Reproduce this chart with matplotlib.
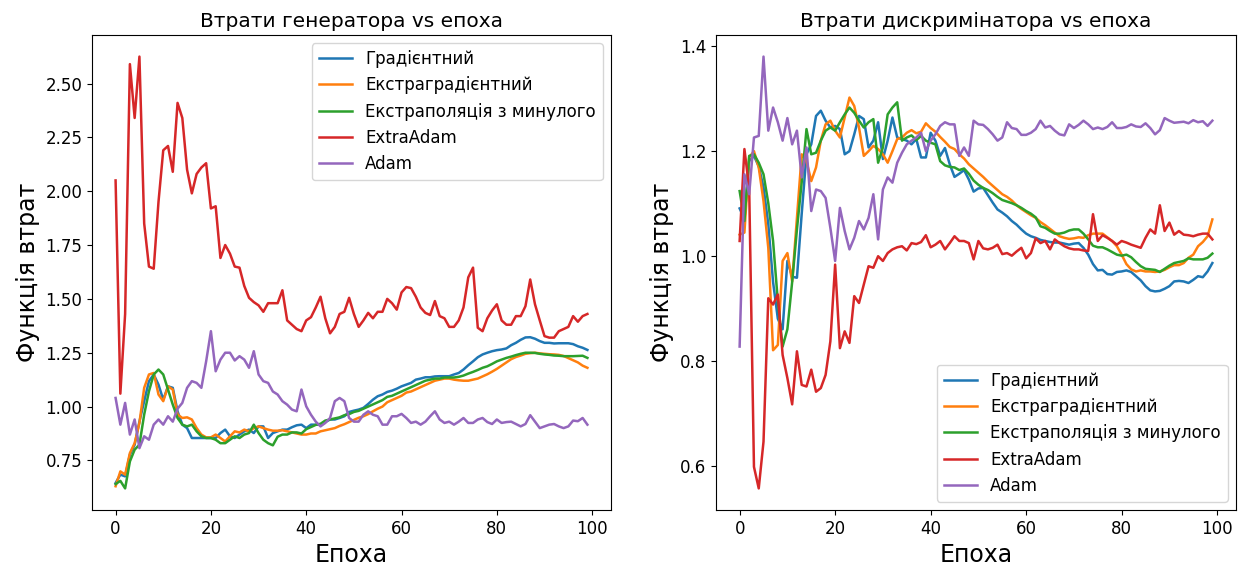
import matplotlib
matplotlib.use("Agg")
import matplotlib.pyplot as plt
import numpy as np

epochs = list(range(100))

labels = ["Градієнтний", "Екстраградієнтний", "Екстраполяція з минулого", "ExtraAdam", "Adam"]
colors = ["#1f77b4", "#ff7f0e", "#2ca02c", "#d62728", "#9467bd"]

gen_grad = [0.645, 0.684, 0.676, 0.777, 0.823, 0.93, 1.025, 1.118, 1.149, 1.102,
            1.032, 1.094, 1.087, 0.978, 0.916, 0.90, 0.854, 0.854, 0.854, 0.854,
            0.854, 0.854, 0.877, 0.893, 0.862, 0.854, 0.87, 0.885, 0.893, 0.877,
            0.908, 0.908, 0.854, 0.877, 0.885, 0.893, 0.893, 0.904, 0.913, 0.916,
            0.90, 0.916, 0.916, 0.916, 0.928, 0.94, 0.94, 0.947, 0.955, 0.975,
            0.981, 0.986, 0.994, 1.012, 1.032, 1.048, 1.056, 1.068, 1.074, 1.083,
            1.094, 1.102, 1.11, 1.125, 1.13, 1.136, 1.136, 1.14, 1.141, 1.141,
            1.141, 1.149, 1.156, 1.172, 1.192, 1.21, 1.229, 1.242, 1.25, 1.257,
            1.262, 1.265, 1.27, 1.285, 1.296, 1.31, 1.321, 1.322, 1.315, 1.304,
            1.296, 1.296, 1.293, 1.294, 1.294, 1.294, 1.29, 1.28, 1.273, 1.263]

gen_eg = [0.63, 0.699, 0.684, 0.784, 0.83, 0.924, 1.087, 1.149, 1.156, 1.056,
          1.025, 1.094, 1.079, 0.963, 0.947, 0.95, 0.94, 0.90, 0.87, 0.857,
          0.857, 0.87, 0.854, 0.838, 0.862, 0.885, 0.88, 0.893, 0.885, 0.90,
          0.908, 0.90, 0.893, 0.888, 0.888, 0.89, 0.885, 0.88, 0.875, 0.87,
          0.87, 0.875, 0.875, 0.885, 0.89, 0.895, 0.90, 0.91, 0.918, 0.928,
          0.938, 0.948, 0.955, 0.965, 0.978, 0.99, 1.00, 1.02, 1.03, 1.04,
          1.05, 1.065, 1.07, 1.08, 1.09, 1.10, 1.11, 1.12, 1.125, 1.13,
          1.13, 1.125, 1.122, 1.12, 1.12, 1.125, 1.13, 1.14, 1.15, 1.162,
          1.175, 1.19, 1.205, 1.22, 1.23, 1.237, 1.245, 1.248, 1.25, 1.247,
          1.245, 1.243, 1.242, 1.24, 1.235, 1.225, 1.215, 1.205, 1.19, 1.18]

gen_ep = [0.64, 0.655, 0.62, 0.745, 0.80, 0.823, 0.963, 1.071, 1.149, 1.172,
          1.149, 1.079, 1.009, 0.947, 0.916, 0.908, 0.916, 0.885, 0.862, 0.854,
          0.854, 0.846, 0.83, 0.83, 0.846, 0.862, 0.854, 0.87, 0.877, 0.916,
          0.877, 0.846, 0.83, 0.82, 0.86, 0.87, 0.87, 0.88, 0.88, 0.875,
          0.895, 0.905, 0.915, 0.92, 0.935, 0.94, 0.945, 0.95, 0.96, 0.965,
          0.975, 0.98, 0.99, 1.00, 1.01, 1.02, 1.03, 1.045, 1.05, 1.06,
          1.07, 1.08, 1.09, 1.10, 1.11, 1.12, 1.125, 1.13, 1.13, 1.135,
          1.135, 1.135, 1.138, 1.144, 1.153, 1.161, 1.17, 1.18, 1.187, 1.198,
          1.21, 1.218, 1.226, 1.232, 1.239, 1.245, 1.25, 1.25, 1.249, 1.245,
          1.242, 1.24, 1.237, 1.236, 1.234, 1.234, 1.234, 1.235, 1.236, 1.226]

gen_xa = [2.05, 1.06, 1.43, 2.59, 2.34, 2.625, 1.85, 1.65, 1.64, 1.95,
          2.19, 2.21, 2.09, 2.41, 2.34, 2.10, 1.99, 2.08, 2.11, 2.13,
          1.92, 1.93, 1.69, 1.75, 1.71, 1.65, 1.645, 1.56, 1.505, 1.485,
          1.47, 1.44, 1.48, 1.48, 1.48, 1.54, 1.40, 1.38, 1.36, 1.35,
          1.40, 1.415, 1.46, 1.51, 1.41, 1.34, 1.37, 1.43, 1.44, 1.505,
          1.43, 1.37, 1.40, 1.435, 1.41, 1.44, 1.44, 1.50, 1.48, 1.45,
          1.53, 1.555, 1.55, 1.51, 1.46, 1.435, 1.425, 1.49, 1.42, 1.41,
          1.37, 1.37, 1.40, 1.46, 1.60, 1.645, 1.366, 1.35, 1.41, 1.446,
          1.475, 1.40, 1.38, 1.38, 1.42, 1.42, 1.466, 1.59, 1.475, 1.40,
          1.327, 1.32, 1.32, 1.35, 1.36, 1.37, 1.42, 1.394, 1.42, 1.43]

gen_adam = [1.04, 0.916, 1.017, 0.87, 0.94, 0.807, 0.862, 0.846, 0.916, 0.94,
            0.916, 0.955, 0.93, 0.99, 1.017, 1.087, 1.118, 1.11, 1.087, 1.21,
            1.35, 1.164, 1.218, 1.25, 1.25, 1.214, 1.234, 1.218, 1.18, 1.257,
            1.149, 1.118, 1.11, 1.07, 1.056, 1.025, 1.009, 0.986, 0.978, 1.079,
            1.001, 0.962, 0.93, 0.908, 0.924, 0.947, 1.025, 1.04, 1.025, 0.947,
            0.93, 0.93, 0.962, 0.978, 0.962, 0.955, 0.916, 0.916, 0.955, 0.955,
            0.966, 0.947, 0.924, 0.93, 0.916, 0.93, 0.955, 0.978, 0.94, 0.924,
            0.93, 0.916, 0.93, 0.947, 0.924, 0.924, 0.94, 0.947, 0.928, 0.919,
            0.94, 0.924, 0.928, 0.93, 0.919, 0.908, 0.919, 0.96, 0.93, 0.90,
            0.908, 0.916, 0.919, 0.908, 0.90, 0.908, 0.935, 0.932, 0.947, 0.916]

dis_grad = [1.09, 1.07, 1.18, 1.19, 1.17, 1.13, 1.06, 0.95, 0.88, 0.86,
            0.99, 0.96, 0.958, 1.08, 1.193, 1.212, 1.266, 1.276, 1.257, 1.244,
            1.247, 1.241, 1.193, 1.199, 1.231, 1.266, 1.26, 1.206, 1.219, 1.254,
            1.184, 1.219, 1.263, 1.225, 1.222, 1.219, 1.212, 1.222, 1.187, 1.187,
            1.234, 1.219, 1.19, 1.205, 1.174, 1.15, 1.156, 1.163, 1.145, 1.122,
            1.128, 1.129, 1.115, 1.101, 1.088, 1.082, 1.075, 1.066, 1.059, 1.05,
            1.042, 1.037, 1.034, 1.03, 1.028, 1.026, 1.025, 1.025, 1.023, 1.021,
            1.023, 1.024, 1.015, 1.002, 0.984, 0.972, 0.973, 0.965, 0.964, 0.969,
            0.97, 0.972, 0.969, 0.961, 0.953, 0.942, 0.934, 0.932, 0.933, 0.937,
            0.942, 0.951, 0.952, 0.951, 0.948, 0.954, 0.961, 0.959, 0.97, 0.986]

dis_eg = [1.04, 1.044, 1.187, 1.199, 1.168, 1.104, 1.015, 0.82, 0.83, 0.99,
          1.005, 0.951, 1.072, 1.193, 1.18, 1.142, 1.168, 1.219, 1.25, 1.257,
          1.238, 1.225, 1.263, 1.301, 1.285, 1.244, 1.19, 1.199, 1.209, 1.203,
          1.193, 1.177, 1.199, 1.222, 1.225, 1.234, 1.239, 1.233, 1.236, 1.252,
          1.243, 1.236, 1.226, 1.217, 1.207, 1.203, 1.193, 1.185, 1.174, 1.166,
          1.158, 1.15, 1.141, 1.133, 1.125, 1.117, 1.112, 1.105, 1.096, 1.089,
          1.083, 1.077, 1.072, 1.064, 1.058, 1.051, 1.044, 1.037, 1.034, 1.032,
          1.033, 1.035, 1.034, 1.039, 1.042, 1.042, 1.042, 1.035, 1.028, 1.018,
          1.002, 0.984, 0.974, 0.97, 0.972, 0.97, 0.97, 0.969, 0.97, 0.973,
          0.978, 0.982, 0.982, 0.986, 0.996, 1.002, 1.018, 1.026, 1.037, 1.069]

dis_ep = [1.123, 1.066, 1.19, 1.193, 1.177, 1.155, 1.10, 1.028, 0.913, 0.827,
          0.86, 0.95, 1.05, 1.14, 1.241, 1.193, 1.196, 1.219, 1.238, 1.244,
          1.238, 1.254, 1.269, 1.282, 1.272, 1.257, 1.244, 1.254, 1.26, 1.177,
          1.206, 1.269, 1.282, 1.292, 1.219, 1.225, 1.229, 1.22, 1.228, 1.219,
          1.215, 1.212, 1.18, 1.172, 1.169, 1.168, 1.163, 1.166, 1.156, 1.143,
          1.135, 1.129, 1.125, 1.119, 1.112, 1.106, 1.103, 1.10, 1.096, 1.091,
          1.085, 1.08, 1.073, 1.056, 1.053, 1.047, 1.042, 1.042, 1.044, 1.048,
          1.05, 1.05, 1.042, 1.031, 1.019, 1.016, 1.016, 1.012, 1.007, 1.002,
          1.0, 1.002, 0.997, 0.988, 0.98, 0.975, 0.974, 0.973, 0.969, 0.975,
          0.981, 0.986, 0.988, 0.99, 0.995, 0.993, 0.993, 0.993, 0.996, 1.004]

dis_xa = [1.028, 1.203, 1.129, 0.598, 0.557, 0.646, 0.919, 0.907, 0.926, 0.811,
          0.767, 0.717, 0.818, 0.754, 0.751, 0.783, 0.741, 0.748, 0.773, 0.837,
          0.983, 0.824, 0.856, 0.834, 0.923, 0.91, 0.945, 0.98, 0.977, 0.999,
          0.99, 1.005, 1.012, 1.016, 1.018, 1.01, 1.024, 1.022, 1.026, 1.039,
          1.016, 1.021, 1.028, 1.012, 1.024, 1.037, 1.028, 1.028, 1.024, 0.993,
          1.028, 1.014, 1.012, 1.015, 1.021, 1.003, 1.005, 1.0, 1.008, 1.015,
          0.995, 1.005, 1.033, 1.024, 1.028, 1.012, 1.031, 1.024, 1.018, 1.014,
          1.012, 1.012, 1.01, 1.009, 1.079, 1.028, 1.039, 1.034, 1.028, 1.021,
          1.028, 1.025, 1.021, 1.018, 1.015, 1.034, 1.05, 1.042, 1.096, 1.047,
          1.063, 1.04, 1.047, 1.04, 1.039, 1.037, 1.04, 1.042, 1.042, 1.031]

dis_adam = [0.827, 1.155, 1.117, 1.225, 1.228, 1.379, 1.238, 1.282, 1.254, 1.219,
            1.262, 1.212, 1.238, 1.149, 1.206, 1.085, 1.126, 1.123, 1.11, 1.053,
            0.99, 1.091, 1.047, 1.012, 1.034, 1.066, 1.05, 1.072, 1.117, 1.031,
            1.126, 1.149, 1.139, 1.177, 1.196, 1.212, 1.219, 1.225, 1.234, 1.199,
            1.219, 1.231, 1.247, 1.254, 1.25, 1.25, 1.19, 1.206, 1.19, 1.257,
            1.25, 1.249, 1.241, 1.231, 1.219, 1.225, 1.254, 1.243, 1.241, 1.23,
            1.23, 1.234, 1.241, 1.257, 1.244, 1.247, 1.238, 1.231, 1.229, 1.25,
            1.243, 1.249, 1.257, 1.25, 1.241, 1.244, 1.241, 1.245, 1.254, 1.243,
            1.243, 1.245, 1.25, 1.246, 1.245, 1.252, 1.243, 1.231, 1.239, 1.262,
            1.257, 1.253, 1.254, 1.255, 1.252, 1.258, 1.254, 1.256, 1.247, 1.257]

gen_series = [gen_grad, gen_eg, gen_ep, gen_xa, gen_adam]
dis_series = [dis_grad, dis_eg, dis_ep, dis_xa, dis_adam]

fig = plt.figure(figsize=(12.45, 5.72), dpi=100)
ax1 = fig.add_axes([92 / 1245, 1 - 510 / 572, 519 / 1245, 475 / 572])
ax2 = fig.add_axes([716 / 1245, 1 - 510 / 572, 520 / 1245, 475 / 572])

for ax, series, title, loc in [
    (ax1, gen_series, "Втрати генератора vs епоха", "upper right"),
    (ax2, dis_series, "Втрати дискримінатора vs епоха", "lower right"),
]:
    for ys, lab, c in zip(series, labels, colors):
        ax.plot(epochs, ys, color=c, label=lab, linewidth=1.8)
    ax.set_title(title, fontsize=14.5)
    ax.set_xlabel("Епоха", fontsize=17)
    ax.set_ylabel("Функція втрат", fontsize=17)
    ax.tick_params(labelsize=12)
    ax.legend(loc=loc, fontsize=12)

ax1.set_yticks([0.75, 1.0, 1.25, 1.5, 1.75, 2.0, 2.25, 2.5])
ax1.set_yticklabels(["0.75", "1.00", "1.25", "1.50", "1.75", "2.00", "2.25", "2.50"])

fig.savefig("out.png", dpi=100)
